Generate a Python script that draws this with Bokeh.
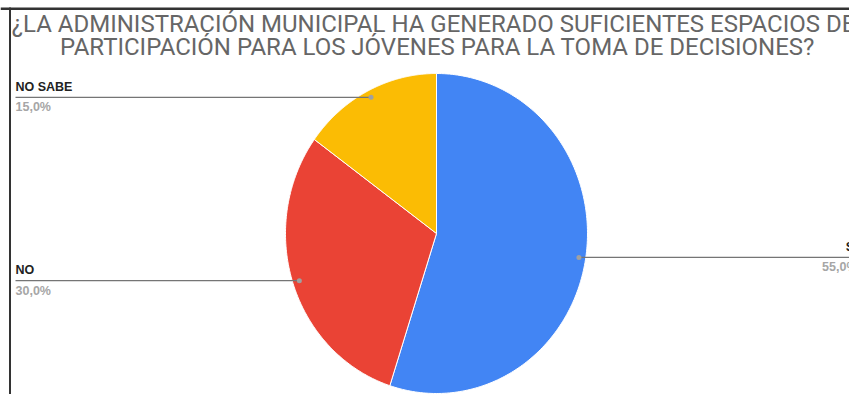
import numpy as np
from bokeh.plotting import figure
from bokeh.models import Range1d
from bokeh.core.properties import value
from bokeh.embed import file_html
from bokeh.resources import INLINE

# ---- data ----
title_lines = ["¿LA ADMINISTRACIÓN MUNICIPAL HA GENERADO SUFICIENTES ESPACIOS DE",
               "PARTICIPACIÓN PARA LOS JÓVENES PARA LA TOMA DE DECISIONES?"]
categories = ["SÍ", "NO", "NO SABE"]
values = [55, 30, 15]
colors = ["#4285F4", "#EA4335", "#FBBC04"]
label_side = ["right", "left", "left"]

W, H = 849, 394
p = figure(width=W, height=H, output_backend="svg", toolbar_location=None,
           x_range=Range1d(0, W), y_range=Range1d(0, H), min_border=0)
p.title.visible = False
p.axis.visible = False
p.grid.visible = False
p.outline_line_color = None
p.background_fill_color = "white"

# frame lines of the screenshot
p.quad(left=[0], right=[W], bottom=[384.5], top=[387], fill_color="#333333", line_color=None)
p.quad(left=[8.5], right=[10.5], bottom=[0], top=[387], fill_color="#333333", line_color=None)

cx, cy, rx, ry = 436, 161, 151, 160
vals = np.array(values, dtype=float)
fr = vals / vals.sum()
ends = np.cumsum(fr)
starts = ends - fr

xs, ys = [], []
for s, e in zip(starts, ends):
    t = np.linspace(s, e, 200)
    th = np.deg2rad(90 - 360 * t)
    xs.append(np.concatenate([[cx], cx + rx * np.cos(th)]).tolist())
    ys.append(np.concatenate([[cy], cy + ry * np.sin(th)]).tolist())
p.patches(xs, ys, fill_color=colors, line_color="white", line_width=1)

mid = np.deg2rad(90 - 360 * (starts + ends) / 2)
dx = cx + 0.955 * rx * np.cos(mid)
dy = cy + 0.955 * ry * np.sin(mid)

pcts = [f"{v:.1f}".replace(".", ",") + "%" for v in values]
for i, cat in enumerate(categories):
    if label_side[i] == "left":
        lx0, lx1, tx, align = 15, dx[i], 15, "left"
    else:
        lx0, lx1, tx, align = dx[i], W, 857, "right"
    p.line([lx0, lx1], [dy[i], dy[i]], line_color="#757575", line_width=1.2)
    p.scatter([dx[i]], [dy[i]], size=5, fill_color="#a0a0a0", line_color=None)
    p.text([tx], [dy[i] + 3.5], text=[cat], text_font=value("Liberation Sans"),
           text_font_size="12.5px", text_font_style="bold", text_color="#222222",
           text_align=align, text_baseline="bottom")
    p.text([tx], [dy[i] - 3], text=[pcts[i]], text_font=value("Liberation Sans"),
           text_font_size="12.5px", text_font_style="bold", text_color="#a6a6a6",
           text_align=align, text_baseline="top")

title_y = [385, 362]
p.text([433, 437], title_y, text=title_lines,
       text_font=value("Roboto"),
       text_font_size="24px", text_color="#666666",
       text_align="center", text_baseline="top")

open("out.html", "w").write(file_html(p, INLINE))
